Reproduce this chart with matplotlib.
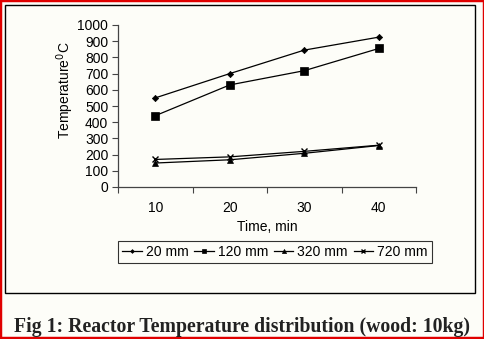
import matplotlib
matplotlib.use("Agg")
import matplotlib.pyplot as plt
from matplotlib.patches import Rectangle

# time points (min) and reactor temperatures (deg C) at each height
time_min = ["10", "20", "30", "40"]
temp_20mm = [550, 700, 845, 925]
temp_120mm = [440, 630, 718, 855]
temp_320mm = [148, 168, 208, 256]
temp_720mm = [170, 186, 220, 258]

series = [
    ("20 mm", temp_20mm, "D", 3.2),
    ("120 mm", temp_120mm, "s", 6),
    ("320 mm", temp_320mm, "^", 5),
    ("720 mm", temp_720mm, "x", 5),
]

W, H = 485, 339
bg = "#fdfdf8"
fs = 10
plt.rcParams["font.family"] = ["Liberation Sans", "DejaVu Sans"]

fig = plt.figure(figsize=(W / 100, H / 100), dpi=100, facecolor=bg)
ax = fig.add_axes([118 / W, 1 - 187 / H, 298 / W, 162 / H])
ax.set_facecolor(bg)

x = list(range(1, len(time_min) + 1))
handles = []
for name, vals, mk, ms in series:
    h, = ax.plot(x, vals, color="black", lw=0.9, marker=mk, markersize=ms,
                 markerfacecolor="black", markeredgecolor="black",
                 markeredgewidth=1.0 if mk == "x" else 0.5, label=name)
    handles.append(h)

ax.set_xlim(0.5, len(time_min) + 0.5)
ax.set_ylim(0, 1000)
ax.set_yticks(range(0, 1001, 100))
ax.set_xticks([i + 0.5 for i in range(0, len(time_min) + 1)])
ax.set_xticklabels([])
ax.set_xticks(x, minor=True)
ax.set_xticklabels(time_min, minor=True)
ax.tick_params(axis="x", which="major", length=4, color="#444", direction="out")
ax.tick_params(axis="x", which="minor", length=0, pad=10, labelsize=fs)
ax.tick_params(axis="y", length=4, color="#444", pad=3, labelsize=fs)

for s in ("top", "right"):
    ax.spines[s].set_visible(False)
for s in ("left", "bottom"):
    ax.spines[s].set_color("#444")
    ax.spines[s].set_linewidth(0.9)

fig.text(65 / W, 1 - 90 / H, "Temperature$^0$C", rotation=90,
         ha="center", va="center", fontsize=fs)
fig.text(267 / W, 1 - 227 / H, "Time, min", ha="center", va="center", fontsize=fs)

leg = fig.legend(handles=handles, loc="center", ncol=4,
                 bbox_to_anchor=(275 / W, 1 - 252 / H), fontsize=fs,
                 frameon=True, fancybox=False, handlelength=1.4,
                 markerscale=0.6, handletextpad=0.3, columnspacing=0.4,
                 borderpad=0.3)
leg.get_frame().set_edgecolor("black")
leg.get_frame().set_linewidth(0.8)
leg.get_frame().set_facecolor(bg)

# inner chart box and outer red frame
fig.patches.append(Rectangle((5 / W, 1 - 293 / H), 470 / W, 288 / H,
                             transform=fig.transFigure, fill=False,
                             edgecolor="black", lw=1.0))
fig.patches.append(Rectangle((0, 0), 1, 1, transform=fig.transFigure,
                             fill=False, edgecolor="#e00000", lw=3.2))

fig.text(242 / W, 1 - 327 / H,
         "Fig 1: Reactor Temperature distribution (wood: 10kg)",
         ha="center", va="center", fontsize=14.2, fontweight="bold",
         family=["Liberation Serif", "DejaVu Serif"], color="#222")

fig.savefig("out.png", dpi=100, facecolor=bg)
